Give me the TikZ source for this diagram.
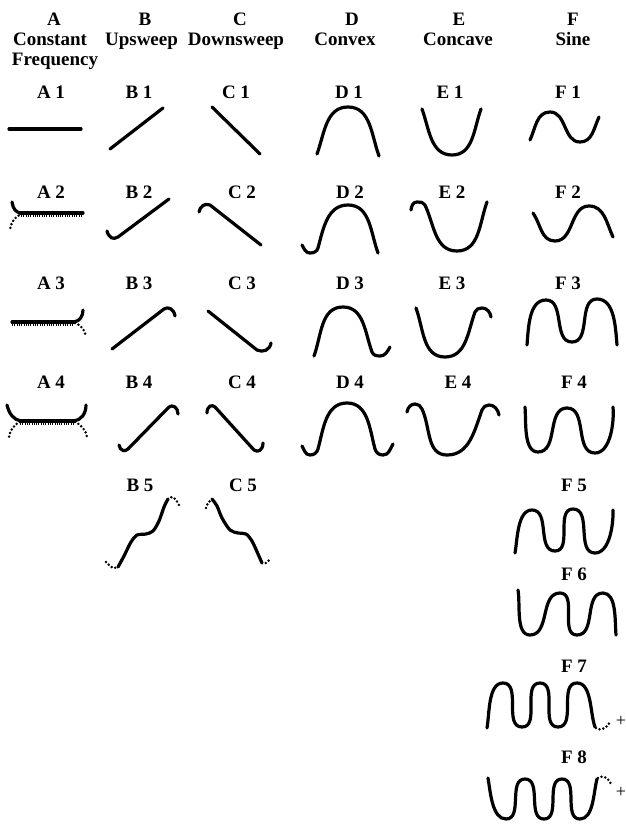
\documentclass[tikz,border=0pt]{standalone}
\usepackage{fontspec}
\setmainfont{Liberation Serif}
\newcommand\hdfont{\fontsize{19}{20}\selectfont\bfseries}
\newcommand\plusfont{\fontsize{18}{18}\selectfont}
\begin{document}
\begin{tikzpicture}[x=1pt,y=-1pt,
  crv/.style={line width=3.2pt, line cap=round, line join=round},
  dotc/.style={line width=2.8pt, line cap=round, dash pattern=on 0pt off 3.8pt},
  comb/.style={line width=2pt, dash pattern=on 1pt off 1.3pt},
  hd/.style={font=\hdfont, inner sep=0pt, anchor=base},
  pl/.style={font=\plusfont, inner sep=0pt}]
\useasboundingbox (0,0) rectangle (625,825);
\fill[white] (0,0) rectangle (625,825);
% headers
\node[hd] (hA1) at (54,25) {A};
\node[hd] (hA2) at (50,45) {Constant};
\node[hd] (hA3) at (55,65) {Frequency};
\node[hd] (hB1) at (145,25) {B};
\node[hd] (hB2) at (141.5,45) {Upsweep};
\node[hd] (hC1) at (240,25) {C};
\node[hd] (hC2) at (236,45) {Downsweep};
\node[hd] (hD1) at (352,25) {D};
\node[hd] (hD2) at (345,45) {Convex};
\node[hd] (hE1) at (459,25) {E};
\node[hd] (hE2) at (458,45) {Concave};
\node[hd] (hF1) at (573,25) {F};
\node[hd] (hF2) at (573,45) {Sine};
% labels
\node[hd] (lA1) at (51,98) {A 1};
\node[hd] (lA2) at (51,198) {A 2};
\node[hd] (lA3) at (51,289) {A 3};
\node[hd] (lA4) at (51,388) {A 4};
\node[hd] (lB1) at (139,98) {B 1};
\node[hd] (lB2) at (139,198) {B 2};
\node[hd] (lB3) at (139,289) {B 3};
\node[hd] (lB4) at (139,388) {B 4};
\node[hd] (lB5) at (140,491) {B 5};
\node[hd] (lC1) at (236,98) {C 1};
\node[hd] (lC2) at (242,198) {C 2};
\node[hd] (lC3) at (242,289) {C 3};
\node[hd] (lC4) at (242,388) {C 4};
\node[hd] (lC5) at (243,491) {C 5};
\node[hd] (lD1) at (349,98) {D 1};
\node[hd] (lD2) at (350,198) {D 2};
\node[hd] (lD3) at (350,289) {D 3};
\node[hd] (lD4) at (350,388) {D 4};
\node[hd] (lE1) at (450,98) {E 1};
\node[hd] (lE2) at (452,198) {E 2};
\node[hd] (lE3) at (452,289) {E 3};
\node[hd] (lE4) at (458,388) {E 4};
\node[hd] (lF1) at (568,98) {F 1};
\node[hd] (lF2) at (568,198) {F 2};
\node[hd] (lF3) at (568,289) {F 3};
\node[hd] (lF4) at (574,388) {F 4};
\node[hd] (lF5) at (574,491) {F 5};
\node[hd] (lF6) at (574,580) {F 6};
\node[hd] (lF7) at (574,672) {F 7};
\node[hd] (lF8) at (574,763) {F 8};
% A column
\draw[crv] (9,129) -- (81,129);
% A2
\draw[crv] (20,213) -- (83,213);
\draw[comb] (21,215.5) -- (83,215.5);
\draw[crv] (12,202) .. controls (13,209) and (16,213) .. (22,213);
\draw[dotc] (22,214) .. controls (15,216) and (11,222) .. (10,230);
% A3
\draw[crv] (12,322) -- (75,322);
\draw[comb] (12,324.5) -- (74,324.5);
\draw[crv] (74,322) .. controls (80,321) and (83,316) .. (83,310);
\draw[dotc] (75,323) .. controls (81,325) and (85,330) .. (86,337);
% A4
\draw[crv] (20,421) -- (75,421);
\draw[comb] (20,423.5) -- (75,423.5);
\draw[crv] (7,405) .. controls (9,414) and (14,420) .. (21,421);
\draw[crv] (74,421) .. controls (81,420) and (86,414) .. (86,405);
\draw[dotc] (20,422) .. controls (13,425) and (10,431) .. (9,437);
\draw[dotc] (75,422) .. controls (82,425) and (86,431) .. (87,437);
% B column
\draw[crv] (110,149) -- (163,108);
\draw[crv] (107,231) .. controls (109,238) and (113,240) .. (118,237) -- (169,199);
\draw[crv] (112,349) -- (164,309) .. controls (168,306) and (174,309) .. (175,316);
\draw[crv] (119,445) .. controls (120,451) and (125,452) .. (128,449) -- (168,408) .. controls (173,403) and (178,408) .. (178,414);
\draw[dotc] plot[smooth] coordinates {(106,562) (110,566) (114,568) (118,567)};
\draw[crv] plot[smooth] coordinates {(118,567) (124,556) (131,542) (137,535) (146,534) (153,531) (159,521) (164,507) (168,499)};
\draw[dotc] plot[smooth] coordinates {(168,499) (172,497) (176,500) (179,505)};
% C column
\draw[crv] (212,107) -- (260,154);
\draw[crv] (199,212) .. controls (200,206) and (205,203) .. (210,205) -- (261,245);
\draw[crv] (208,311) -- (257,350) .. controls (263,353) and (270,350) .. (271,343);
\draw[crv] (207,413) .. controls (207,406) and (212,404) .. (215,407) -- (254,450) .. controls (258,453) and (263,450) .. (263,443);
\draw[dotc] plot[smooth] coordinates {(206,508) (208,503) (212,499)};
\draw[crv] plot[smooth] coordinates {(212,499) (217,506) (222,518) (230,530) (238,533) (246,534) (252,541) (258,554) (262,563)};
\draw[dotc] plot[smooth] coordinates {(262,563) (266,563) (270,559)};
% D column
\draw[crv] (317,154) to[out=70,in=180] (348,107) to[out=0,in=110] (379,156);
\draw[crv] (302,245) to[out=-60,in=180] (310,253) to[out=0,in=-105] (318,248) to[out=75,in=180] (348,205) to[out=0,in=110] (378,253);
\draw[crv] (314,356) to[out=70,in=180] (343,307) to[out=0,in=110] (372,352) to[out=-70,in=180] (380,356) to[out=0,in=-120] (390,347);
\draw[crv] (302,446) to[out=-60,in=180] (310,455) to[out=0,in=-105] (318,449) to[out=75,in=180] (347,403) to[out=0,in=105] (375,449) to[out=-75,in=180] (383,455) to[out=0,in=-120] (393,444);
% E column
\draw[crv] (422,109) to[out=-70,in=180] (452,155) to[out=0,in=-110] (481,109);
\draw[crv] (411,210) to[out=85,in=180] (417,202) to[out=0,in=115] (425,205) to[out=-65,in=180] (457,251) to[out=0,in=-110] (487,202);
\draw[crv] (416,308) to[out=-70,in=180] (445,357) to[out=0,in=-110] (475,312) to[out=70,in=180] (482,308) to[out=0,in=100] (491,317);
\draw[crv] (407,412) to[out=80,in=180] (415,404) to[out=0,in=115] (422,409) to[out=-65,in=180] (447,455) to[out=0,in=-110] (482,410) to[out=70,in=180] (489,405) to[out=0,in=100] (499,415);
% F column
\draw[crv] (530,140) to[out=65,in=180] (550,112) to[out=0,in=180] (580,142) to[out=0,in=-115] (599,117);
\draw[crv] (533,213) to[out=-55,in=180] (555,241) to[out=0,in=180] (589,206) to[out=0,in=115] (613,237);
\draw[crv] (527,345) to[out=85,in=180,looseness=0.9] (546,300) to[out=0,in=180] (572,342) to[out=0,in=180] (597,299) to[out=0,in=95,looseness=0.9] (617,345);
\draw[crv] (525,407) to[out=-85,in=180,looseness=0.8] (538,452) to[out=0,in=180] (567,408) to[out=0,in=180] (595,453) to[out=0,in=-85,looseness=0.8] (613,407);
\draw[crv] (515,553) to[out=80,in=180,looseness=0.8] (532,510) to[out=0,in=180] (555,551) to[out=0,in=180] (573,509) to[out=0,in=180] (595,553) to[out=0,in=-88,looseness=0.8] (613,510);
\draw[crv] (518,590) to[out=-80,in=180,looseness=0.8] (530,635) to[out=0,in=180] (560,593) to[out=0,in=180] (577,635) to[out=0,in=180] (603,593) to[out=0,in=95,looseness=0.8] (616,635);
\draw[crv] (487,728) to[out=80,in=180,looseness=0.8] (503,683) to[out=0,in=180] (522,727) to[out=0,in=180] (540,683) to[out=0,in=180] (558,727) to[out=0,in=180] (577,683) to[out=0,in=110,looseness=0.8] (595,727);
\draw[dotc] (596,728) .. controls (600,731) and (606,729) .. (610,722);
\node[pl] (p7) at (621,721) {+};
\draw[crv] (488,778) to[out=-80,in=180,looseness=0.8] (506,819) to[out=0,in=180] (525,779) to[out=0,in=180] (544,819) to[out=0,in=180] (562,779) to[out=0,in=180] (580,819) to[out=0,in=-105,looseness=0.8] (597,779);
\draw[dotc] (598,778) .. controls (602,775) and (608,777) .. (611,784);
\node[pl] (p8) at (621,792) {+};
\end{tikzpicture}
\end{document}
